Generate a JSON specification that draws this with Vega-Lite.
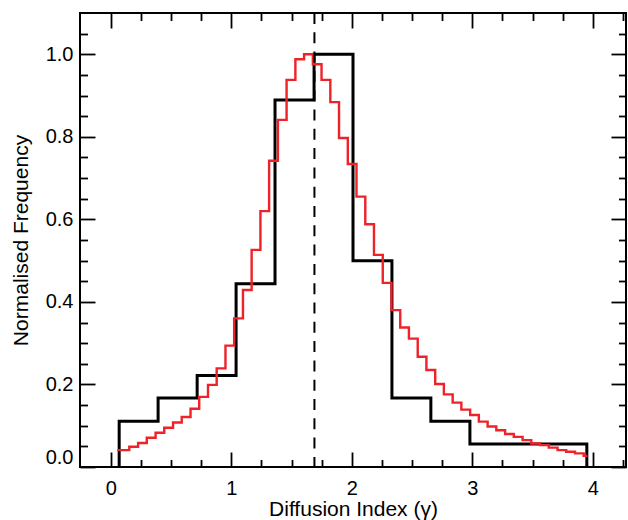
{
  "$schema": "https://vega.github.io/schema/vega-lite/v6.json",
  "width": 546,
  "height": 454,
  "autosize": {"type": "none"},
  "padding": {"left": 80, "top": 13, "right": 2, "bottom": 53},
  "background": "white",
  "config": {
    "font": "Liberation Sans",
    "view": {"stroke": "black", "strokeWidth": 2},
    "axis": {
      "domain": false,
      "grid": false,
      "tickColor": "black",
      "tickWidth": 1.8,
      "labelColor": "black",
      "labelFont": "Liberation Sans",
      "labelFontSize": 20,
      "titleColor": "black",
      "titleFont": "Liberation Sans",
      "titleFontSize": 21,
      "titleFontWeight": "normal"
    }
  },
  "datasets": {
    "black": [
      {"i": 0, "x": 0.070, "y": 0},
      {"i": 1, "x": 0.070, "y": 0.111},
      {"i": 2, "x": 0.393, "y": 0.167},
      {"i": 3, "x": 0.717, "y": 0.222},
      {"i": 4, "x": 1.040, "y": 0.444},
      {"i": 5, "x": 1.363, "y": 0.889},
      {"i": 6, "x": 1.687, "y": 1.0},
      {"i": 7, "x": 2.010, "y": 0.5},
      {"i": 8, "x": 2.333, "y": 0.167},
      {"i": 9, "x": 2.656, "y": 0.111},
      {"i": 10, "x": 2.980, "y": 0.056},
      {"i": 11, "x": 3.303, "y": 0.056},
      {"i": 12, "x": 3.626, "y": 0.056},
      {"i": 13, "x": 3.950, "y": 0.056},
      {"i": 14, "x": 3.950, "y": 0}
    ],
    "red": [
      {"x": 0.055, "y": 0.041},
      {"x": 0.154, "y": 0.049},
      {"x": 0.227, "y": 0.058},
      {"x": 0.299, "y": 0.071},
      {"x": 0.372, "y": 0.083},
      {"x": 0.444, "y": 0.095},
      {"x": 0.517, "y": 0.108},
      {"x": 0.589, "y": 0.121},
      {"x": 0.662, "y": 0.141},
      {"x": 0.734, "y": 0.170},
      {"x": 0.807, "y": 0.199},
      {"x": 0.879, "y": 0.239},
      {"x": 0.952, "y": 0.294},
      {"x": 1.024, "y": 0.360},
      {"x": 1.097, "y": 0.429},
      {"x": 1.169, "y": 0.526},
      {"x": 1.242, "y": 0.620},
      {"x": 1.314, "y": 0.742},
      {"x": 1.387, "y": 0.841},
      {"x": 1.459, "y": 0.938},
      {"x": 1.532, "y": 0.988},
      {"x": 1.604, "y": 1.0},
      {"x": 1.677, "y": 0.976},
      {"x": 1.749, "y": 0.938},
      {"x": 1.822, "y": 0.884},
      {"x": 1.894, "y": 0.797},
      {"x": 1.967, "y": 0.734},
      {"x": 2.039, "y": 0.655},
      {"x": 2.112, "y": 0.588},
      {"x": 2.184, "y": 0.514},
      {"x": 2.257, "y": 0.446},
      {"x": 2.329, "y": 0.380},
      {"x": 2.402, "y": 0.338},
      {"x": 2.474, "y": 0.311},
      {"x": 2.547, "y": 0.267},
      {"x": 2.619, "y": 0.235},
      {"x": 2.692, "y": 0.201},
      {"x": 2.764, "y": 0.176},
      {"x": 2.837, "y": 0.156},
      {"x": 2.909, "y": 0.139},
      {"x": 2.982, "y": 0.126},
      {"x": 3.054, "y": 0.110},
      {"x": 3.127, "y": 0.098},
      {"x": 3.199, "y": 0.089},
      {"x": 3.272, "y": 0.080},
      {"x": 3.344, "y": 0.073},
      {"x": 3.417, "y": 0.065},
      {"x": 3.489, "y": 0.057},
      {"x": 3.562, "y": 0.053},
      {"x": 3.634, "y": 0.047},
      {"x": 3.707, "y": 0.041},
      {"x": 3.779, "y": 0.037},
      {"x": 3.852, "y": 0.033},
      {"x": 3.924, "y": 0.027},
      {"x": 3.955, "y": 0.027}
    ],
    "peak": [{"x": 1.69}]
  },
  "resolve": {"axis": {"x": "independent", "y": "independent"}},
  "layer": [
    {
      "data": {"name": "black"},
      "mark": {"type": "line", "interpolate": "step-after", "color": "black", "strokeWidth": 3, "clip": true},
      "encoding": {
        "x": {
          "field": "x", "type": "quantitative",
          "scale": {"domain": [-0.255, 4.275], "nice": false, "zero": false},
          "axis": {"orient": "bottom", "values": [0, 1, 2, 3, 4], "format": "d", "tickSize": -15, "labelPadding": 26, "labelFlush": false, "title": "Diffusion Index (γ)", "titlePadding": 0}
        },
        "y": {
          "field": "y", "type": "quantitative",
          "scale": {"domain": [0, 1.1], "nice": false, "zero": false},
          "axis": {"orient": "left", "values": [0, 0.2, 0.4, 0.6, 0.8, 1.0], "format": ".1f", "tickSize": -15, "labelPadding": 22, "labelFlush": true, "title": "Normalised Frequency", "titlePadding": 14}
        },
        "order": {"field": "i", "type": "quantitative"}
      }
    },
    {
      "data": {"name": "red"},
      "mark": {"type": "line", "interpolate": "step-after", "color": "#ee2229", "strokeWidth": 2.4, "clip": true},
      "encoding": {
        "x": {
          "field": "x", "type": "quantitative",
          "scale": {"domain": [-0.255, 4.275], "nice": false, "zero": false},
          "axis": {"orient": "top", "values": [0, 1, 2, 3, 4], "tickSize": -15, "labels": false, "title": null}
        },
        "y": {
          "field": "y", "type": "quantitative",
          "scale": {"domain": [0, 1.1], "nice": false, "zero": false},
          "axis": {"orient": "right", "values": [0, 0.2, 0.4, 0.6, 0.8, 1.0], "tickSize": -15, "labels": false, "title": null}
        }
      }
    },
    {
      "data": {"name": "peak"},
      "mark": {"type": "rule", "color": "black", "strokeWidth": 2, "strokeDash": [11, 8.3]},
      "encoding": {
        "x": {
          "field": "x", "type": "quantitative",
          "scale": {"domain": [-0.255, 4.275], "nice": false, "zero": false},
          "axis": {"orient": "bottom", "values": [0.25, 0.5, 0.75, 1.25, 1.5, 1.75, 2.25, 2.5, 2.75, 3.25, 3.5, 3.75, 4.25], "tickSize": -7.5, "labels": false, "title": null}
        },
        "y": {
          "datum": 1.1, "type": "quantitative",
          "scale": {"domain": [0, 1.1], "nice": false, "zero": false},
          "axis": {"orient": "left", "values": [0.05, 0.1, 0.15, 0.25, 0.3, 0.35, 0.45, 0.5, 0.55, 0.65, 0.7, 0.75, 0.85, 0.9, 0.95, 1.05], "tickSize": -7.5, "labels": false, "title": null}
        },
        "y2": {"datum": 0}
      }
    },
    {
      "data": {"name": "peak"},
      "mark": {"type": "rule", "strokeOpacity": 0},
      "encoding": {
        "x": {
          "field": "x", "type": "quantitative",
          "scale": {"domain": [-0.255, 4.275], "nice": false, "zero": false},
          "axis": {"orient": "top", "values": [0.25, 0.5, 0.75, 1.25, 1.5, 1.75, 2.25, 2.5, 2.75, 3.25, 3.5, 3.75, 4.25], "tickSize": -7.5, "labels": false, "title": null}
        },
        "y": {
          "datum": 1.1, "type": "quantitative",
          "scale": {"domain": [0, 1.1], "nice": false, "zero": false},
          "axis": {"orient": "right", "values": [0.05, 0.1, 0.15, 0.25, 0.3, 0.35, 0.45, 0.5, 0.55, 0.65, 0.7, 0.75, 0.85, 0.9, 0.95, 1.05], "tickSize": -7.5, "labels": false, "title": null}
        },
        "y2": {"datum": 0}
      }
    }
  ]
}
